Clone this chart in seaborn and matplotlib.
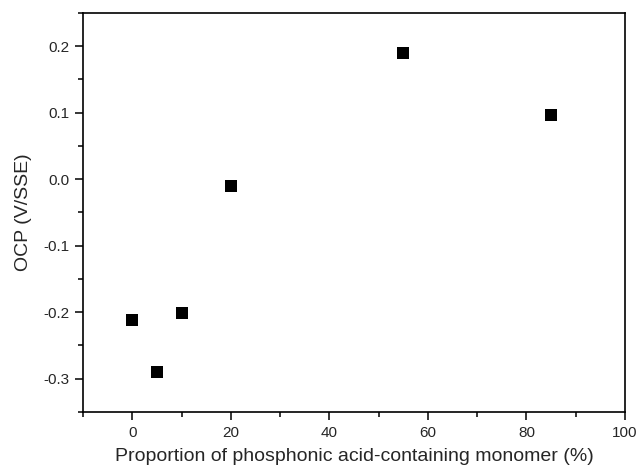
import matplotlib
matplotlib.use("Agg")
import matplotlib.pyplot as plt
import seaborn as sns
import pandas as pd
from matplotlib.ticker import MultipleLocator, FormatStrFormatter

proportion = [0, 5, 10, 20, 55, 85]
ocp = [-0.212, -0.290, -0.201, -0.011, 0.189, 0.097]

sns.set_style("white")
plt.rcParams['font.family'] = ['Liberation Sans', 'DejaVu Sans']

df = pd.DataFrame({"x": proportion, "y": ocp})
fig = plt.figure(figsize=(6.39, 4.74), dpi=100)
ax = fig.add_axes([0.130, 0.131, 0.848, 0.842])
sns.scatterplot(data=df, x="x", y="y", marker="s", s=78, color="black",
                edgecolor="black", linewidth=0, ax=ax)
ax.set_xlim(-10, 100)
ax.set_ylim(-0.35, 0.25)
ax.xaxis.set_major_locator(MultipleLocator(20))
ax.xaxis.set_minor_locator(MultipleLocator(10))
ax.yaxis.set_major_locator(MultipleLocator(0.1))
ax.yaxis.set_minor_locator(MultipleLocator(0.05))
ax.yaxis.set_major_formatter(FormatStrFormatter('%.1f'))
ax.tick_params(which='both', direction='out', bottom=True, left=True, top=False, right=False, color='black')
ax.tick_params(which='major', length=6, width=1.1, labelsize=11, pad=4)
ax.tick_params(which='minor', length=3.5, width=1.1)
for s in ax.spines.values():
    s.set_color('black')
    s.set_linewidth(1.2)
ax.set_xlabel("Proportion of phosphonic acid-containing monomer (%)", fontsize=14, labelpad=6)
ax.set_ylabel("OCP (V/SSE)", fontsize=14, labelpad=8)
fig.savefig("out.png", dpi=100)
